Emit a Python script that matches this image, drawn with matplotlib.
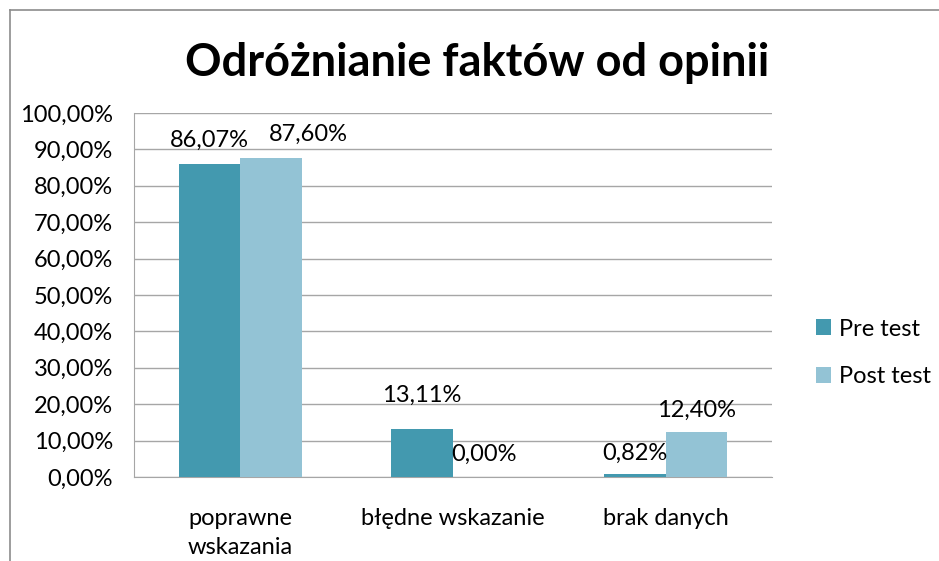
import numpy as np
import matplotlib
matplotlib.use("Agg")
import matplotlib.pyplot as plt
import matplotlib.transforms as mtransforms
from matplotlib.lines import Line2D

categories = ["poprawne\nwskazania", "błędne wskazanie", "brak danych"]
pre_test = [86.07, 13.11, 0.82]
post_test = [87.60, 0.00, 12.40]
series_names = ["Pre test", "Post test"]
y_ticks = [0, 10, 20, 30, 40, 50, 60, 70, 80, 90, 100]

# offsets of the value labels (points, to the baseline); they are not uniform in the original
pre_offsets = [(0, 12.2), (0, 19.4), (0, 10.1)]
post_offsets = [(26.6, 12.2), (0, 11.5), (0, 10.8)]

plt.rcParams['font.family'] = ['Lato', 'DejaVu Sans']

fig = plt.figure(figsize=(9.39, 5.61), dpi=100)
W, H = 939, 561
ax = fig.add_axes([134 / W, (H - 477) / H, (772 - 134) / W, (477 - 113) / H])

x = np.arange(len(categories))
bw = 0.29
c_pre = "#4399AF"
c_post = "#93C3D5"
b1 = ax.bar(x - bw / 2, pre_test, bw, color=c_pre, label=series_names[0], zorder=3)
b2 = ax.bar(x + bw / 2, post_test, bw, color=c_post, label=series_names[1], zorder=3)

for bars, vals, offs in [(b1, pre_test, pre_offsets), (b2, post_test, post_offsets)]:
    for bar, v, off in zip(bars, vals, offs):
        ax.annotate(f"{v:.2f}%".replace(".", ","),
                    (bar.get_x() + bar.get_width() / 2, v),
                    xytext=off, textcoords="offset points",
                    ha="center", va="baseline", fontsize=17, zorder=4)

ax.set_xlim(-0.5, len(categories) - 0.5)
ax.set_ylim(0, 100)
ax.set_yticks(y_ticks)
ax.set_yticklabels([f"{t:.2f}%".replace(".", ",") for t in y_ticks], fontsize=17)
shift = mtransforms.ScaledTranslation(0, -3.5 / 100, fig.dpi_scale_trans)
for lab in ax.get_yticklabels():
    lab.set_transform(lab.get_transform() + shift)
ax.set_xticks(x)
ax.set_xticklabels(categories, fontsize=17, linespacing=1.5)
ax.tick_params(axis="both", length=0)
ax.tick_params(axis="y", pad=15)
ax.tick_params(axis="x", pad=22)
ax.yaxis.grid(True, color="#a6a6a6", linewidth=1, zorder=0)
for s in ["top", "right"]:
    ax.spines[s].set_visible(False)
for s in ["left", "bottom"]:
    ax.spines[s].set_color("#a6a6a6")

fig.text(477 / W, 1 - 76 / H, "Odróżnianie faktów od opinii", ha="center", va="baseline",
         fontsize=32.5, fontweight="bold")

fig.legend(handles=[b1, b2], loc="center left", bbox_to_anchor=(795 / W, 1 - 353 / H),
           frameon=False, fontsize=17, handlelength=0.64, handleheight=0.64,
           handletextpad=0.34, labelspacing=1.14)

# outer chart frame
fig.add_artist(Line2D([10 / W, 10 / W], [0, 1 - 10 / H], color="#8c8c8c", linewidth=1.2))
fig.add_artist(Line2D([10 / W, 1], [1 - 10 / H, 1 - 10 / H], color="#8c8c8c", linewidth=1.2))

fig.savefig("out.png", dpi=100)
